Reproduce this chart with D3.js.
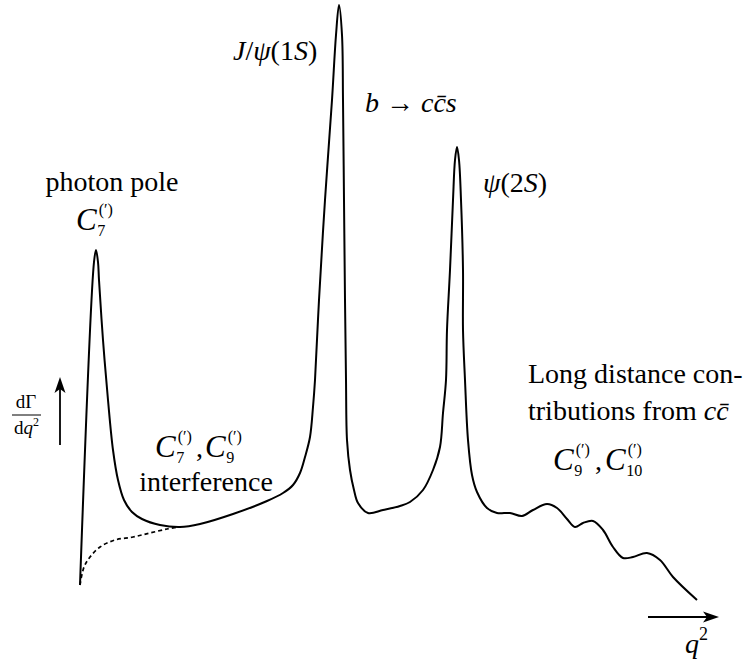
<!DOCTYPE html>
<html><head><meta charset="utf-8">
<script src="https://cdn.jsdelivr.net/npm/d3@7"></script>
<style>
body{margin:0;background:#fff}
svg{display:block}
</style>
</head><body>
<svg id="c" width="756" height="665"></svg>
<script>
// ---- data (arbitrary units: q^2 along x, dΓ/dq^2 along y) ----
const mainQ2 = [0, 14, 16, 18, 19, 23, 28, 33, 38, 44, 52, 62, 80, 100, 120, 153, 187, 203, 213, 220, 225, 230, 233, 235, 239, 245, 252, 256, 259, 262, 263, 264, 265, 266, 267, 270, 274, 278, 288, 303, 320, 330, 343, 353, 360, 363, 366, 367, 370, 373, 375, 377, 379, 381, 383, 383, 385, 388, 392, 397, 407, 417, 430, 442, 453, 467, 477, 487, 495, 503, 513, 523, 533, 543, 553, 567, 580, 593, 617];
const mainRate = [0, 323, 335, 323, 305, 245, 185, 135, 105, 85, 73, 66, 60, 58, 61, 71, 84, 92, 100, 112, 128, 148, 178, 205, 285, 385, 485, 550, 580, 550, 485, 385, 285, 205, 145, 115, 95, 82, 72, 75, 79, 83, 95, 115, 138, 172, 205, 255, 315, 385, 425, 438, 425, 385, 315, 255, 205, 145, 110, 93, 77, 72, 72, 69, 75, 81, 77, 66, 58, 62, 64, 55, 38, 27, 28, 32, 25, 8, -15];
const dashQ2 = [0, 4, 10, 20, 35, 53, 70, 87, 98];
const dashRate = [0, 18, 28, 38, 45, 48, 52, 56, 58];

const photonLabel = ["photon pole"];
const interferenceLabel = ["interference"];
const longDistanceLabel = ["Long distance con-", "tributions from "];
const coeffPhoton = ["7"];
const coeffInterf = ["7", "9"];
const coeffLong = ["9", "10"];

// ---- scales ----
const x = d3.scaleLinear().domain([0, 640]).range([80, 720]);
const y = d3.scaleLinear().domain([0, 580]).range([585, 5]);

const FONT = "'Liberation Serif', 'Times New Roman', Tinos, 'DejaVu Serif', 'Noto Serif', Times, serif";
const svg = d3.select("#c").attr("font-family", FONT);
const line = d3.line().x(d => x(d[0])).y(d => y(d[1])).curve(d3.curveCatmullRom.alpha(0.5));

svg.append("path").datum(d3.zip(dashQ2, dashRate)).attr("d", line)
  .attr("fill", "none").attr("stroke", "#000").attr("stroke-width", 1.7)
  .attr("stroke-dasharray", "4,3");
svg.append("path").datum(d3.zip(mainQ2, mainRate)).attr("d", line)
  .attr("fill", "none").attr("stroke", "#000").attr("stroke-width", 2)
  .attr("stroke-linejoin", "round");

// ---- arrows ----
const ax = svg.append("g").attr("stroke", "#000").attr("stroke-width", 1.8);
ax.append("line").attr("x1", 60).attr("y1", 445).attr("x2", 60).attr("y2", 388);
svg.append("path").attr("d", "M60,377 L54.5,393 L60,389 L65.5,393 Z").attr("fill", "#000");
ax.append("line").attr("x1", 648).attr("y1", 617).attr("x2", 708).attr("y2", 617);
svg.append("path").attr("d", "M719,617 L703,611.5 L707,617 L703,622.5 Z").attr("fill", "#000");

// ---- text helpers ----
function txt(px, py, size) {
  return svg.append("text").attr("x", px).attr("y", py).attr("font-size", size)
    .attr("font-family", FONT).attr("fill", "#000");
}
function rich(px, py, parts, size, anchor) {
  const t = txt(px, py, size).attr("text-anchor", anchor || "start");
  parts.forEach(p => t.append("tspan").text(p[0]).attr("font-style", p[1] ? "italic" : "normal"));
  return t;
}
function coeff(px, py, idx, size) {
  const c = txt(px, py, size).attr("font-style", "italic").text("C");
  const w = c.node().getComputedTextLength();
  const s = size * 0.52;
  txt(px + w + 0.5, py + size * 0.18, s).text(idx);
  txt(px + w + 2, py - size * 0.5, s).text("(′)");
}

const F = 28;
// photon pole
rich(112, 191, [[photonLabel[0], false]], F, "middle");
coeff(76, 230, coeffPhoton[0], 31);

// J/psi
rich(233, 60, [["J", true], ["/", false], ["ψ", true], ["(1", false], ["S", true], [")", false]], F);
// b -> c c̄ s
rich(365, 112, [["b", true], [" → ", false], ["cc\u0304s", true]], F);
// psi(2S)
rich(483, 192, [["ψ", true], ["(2", false], ["S", true], [")", false]], F);

// interference
coeff(155, 457, coeffInterf[0], 31);
txt(196, 457, F).text(",");
coeff(205, 457, coeffInterf[1], 31);
rich(206, 491, [[interferenceLabel[0], false]], F, "middle");

// long distance
rich(528, 383, [[longDistanceLabel[0], false]], F);
rich(528, 420, [[longDistanceLabel[1], false], ["cc\u0304", true]], F);
coeff(553, 470, coeffLong[0], 31);
txt(595, 470, F).text(",");
coeff(605, 470, coeffLong[1], 31);

// y-axis fraction
txt(26, 408, 19).attr("text-anchor", "middle").text("dΓ");
svg.append("line").attr("x1", 12).attr("x2", 41).attr("y1", 415).attr("y2", 415).attr("stroke", "#000").attr("stroke-width", 1);
const den = txt(14, 434, 19);
den.append("tspan").text("d");
den.append("tspan").text("q").attr("font-style", "italic");
den.append("tspan").text("2").attr("font-size", 12).attr("dy", -8);

// x label
const ql = txt(685, 653, F);
ql.append("tspan").text("q").attr("font-style", "italic");
ql.append("tspan").text("2").attr("font-size", 18).attr("dy", -13);
</script>
</body></html>
